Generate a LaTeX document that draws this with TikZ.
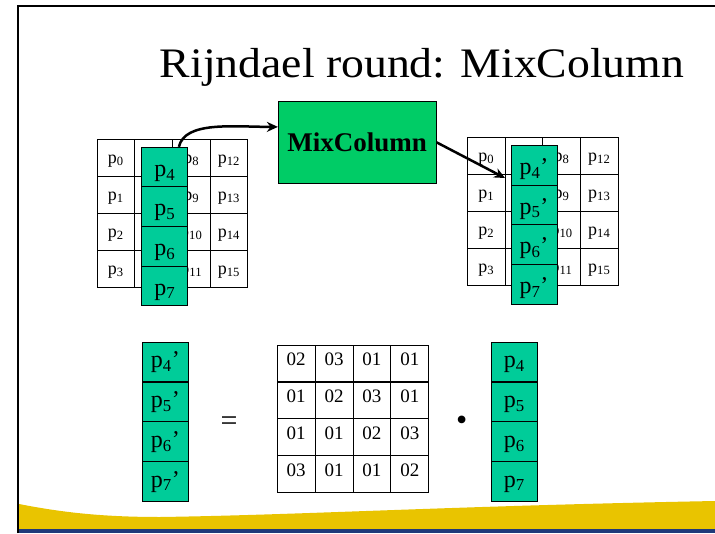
\documentclass[tikz,border=0pt]{standalone}
\usepackage{fontspec}
\setmainfont{Liberation Serif}
\usepackage{tikz}
\usetikzlibrary{arrows.meta}
\definecolor{colgreen}{HTML}{00CC99}
\definecolor{boxgreen}{HTML}{00CC66}
\definecolor{waveyellow}{HTML}{E9C400}
\definecolor{barblue}{HTML}{1F3A7A}
\tikzset{
  cell/.style={draw=black, line width=0.9pt, minimum width=37.7pt, inner sep=0pt,
    text height=24pt, text depth=13pt, font=\fontsize{18}{18}\selectfont},
  gcell/.style={cell, fill=colgreen, minimum width=46pt, text height=29pt,
    text depth=10.6pt, font=\fontsize{24}{24}\selectfont},
  bcell/.style={gcell, text height=25.5pt, text depth=14pt},
  mcell/.style={cell, minimum width=37.8pt, text height=21pt, text depth=16pt,
    font=\fontsize{19}{19}\selectfont},
  mixbox/.style={draw=black, line width=0.9pt, fill=boxgreen, minimum width=157.7pt,
    minimum height=82pt, inner sep=0pt, font=\bfseries\fontsize{27}{27}\selectfont},
  arr/.style={draw=black, line width=2.5pt, ->, >={Stealth[length=11pt,width=10pt]}},
  sym/.style={inner sep=0pt}
}

\begin{document}
\begin{tikzpicture}[x=1pt, y=-1pt]
  \useasboundingbox[fill=white] (0,0) rectangle (715,533);
  % slide decoration
  \fill[waveyellow] (19,504) .. controls (60,512) and (100,517) .. (160,517)
    .. controls (300,515) and (450,506) .. (715,501) -- (715,529) -- (19,529) -- cycle;
  \fill[barblue] (19,529) rectangle (715,533);
  \draw[line width=2pt] (18,533) -- (18,6) -- (715,6);

  \node[anchor=base, font=\fontsize{42}{42}\selectfont] (title) at (422,77)
    {\scalebox{1.088}[1]{Rijndael round: MixColumn}};

  % state before
  \foreach \c in {0,...,3}
    \foreach \r in {0,...,3} {
      \pgfmathtruncatemacro\k{4*\c+\r}
      \node[cell] (l\k) at ({97+37.7*(\c+0.5)},{139.3+37*(\r+0.5)}) {p\textsubscript{\k}};
    }
  \foreach \r in {0,...,3} {
    \pgfmathtruncatemacro\k{4+\r}
    \node[gcell] (lc\k) at (164.7,{147.3+39.6*(\r+0.5)}) {p\textsubscript{\k}};
  }

  % state after
  \foreach \c in {0,...,3}
    \foreach \r in {0,...,3} {
      \pgfmathtruncatemacro\k{4*\c+\r}
      \node[cell] (r\k) at ({467.3+37.7*(\c+0.5)},{137.3+37*(\r+0.5)}) {p\textsubscript{\k}};
    }
  \foreach \r in {0,...,3} {
    \pgfmathtruncatemacro\k{4+\r}
    \node[gcell] (rc\k) at (534,{145.3+39.7*(\r+0.5)}) {p\textsubscript{\k}’};
  }

  \node[mixbox] (mix) at (357.2,142.3) {MixColumn};
  \coordinate (tip) at (505,178);
  \draw[arr] (lc4.55) .. controls +(6,-26) and +(-45,0) .. (mix.169);
  \draw[arr] (mix.east) -- (tip);

  % the equation
  \foreach \r in {0,...,3} {
    \pgfmathtruncatemacro\k{4+\r}
    \node[bcell] (o\k) at (165.3,{342.3+39.7*(\r+0.5)}) {p\textsubscript{\k}’};
    \node[bcell] (i\k) at (514.2,{342.3+39.7*(\r+0.5)}) {p\textsubscript{\k}};
  }
  \foreach \row [count=\r from 0] in {{02,03,01,01},{01,02,03,01},{01,01,02,03},{03,01,01,02}}
    \foreach \v [count=\c from 0] in \row
      \node[mcell] (m\r\c) at ({277.3+37.85*(\c+0.5)},{345+36.9*(\r+0.5)}) {\v};
  \node[sym, font=\fontsize{30}{30}\selectfont] (eq) at (229,424) {=};
  \node[sym, font=\fontsize{32}{32}\selectfont] (dot) at (461.7,423.3) {\textbullet};
\end{tikzpicture}
\end{document}
